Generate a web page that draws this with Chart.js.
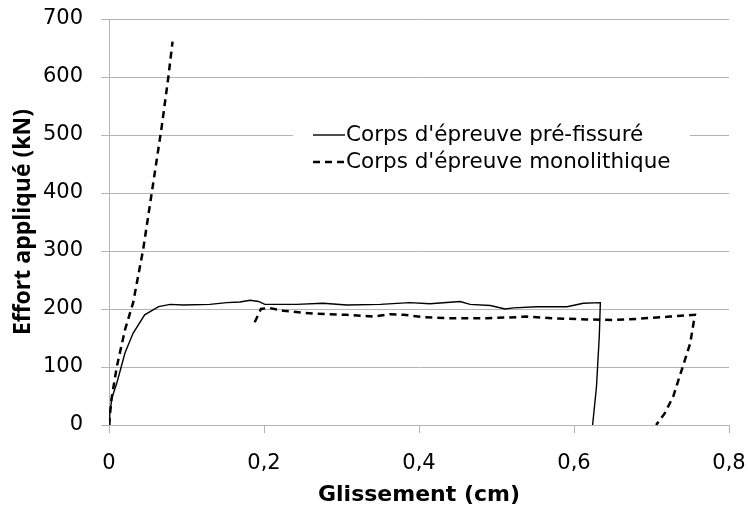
<!DOCTYPE html>
<html>
<head>
<meta charset="utf-8">
<script src="https://cdn.jsdelivr.net/npm/chart.js@4/dist/chart.umd.min.js"></script>
<style>
  html, body { margin: 0; padding: 0; background: #fff; }
  #wrap { width: 748px; height: 508px; }
</style>
</head>
<body>
<div id="wrap"><canvas id="myChart" width="748" height="508"></canvas></div>
<script>
// Corps d'épreuve pré-fissuré (glissement en cm, effort en kN)
const preX = [0, 0.001, 0.004, 0.01, 0.0206, 0.031, 0.046, 0.064, 0.079, 0.096, 0.13, 0.152, 0.169, 0.182, 0.193,
              0.201, 0.242, 0.276, 0.307, 0.35, 0.388, 0.414, 0.453, 0.466, 0.492, 0.511, 0.522, 0.552, 0.591,
              0.612, 0.634, 0.6326, 0.629, 0.624];
const preY = [0, 20, 48, 72, 124, 158, 190, 204, 208, 207, 208, 211, 212, 215, 213,
              208, 208, 210, 207, 208, 211, 209, 213, 208, 206, 200, 202, 204, 204,
              210, 211, 152, 66, 0];

// Corps d'épreuve monolithique (null = coupure de la courbe)
const monoX = [0, 0.003, 0.01, 0.0206, 0.031, 0.044, 0.055, 0.068, 0.0766, 0.082, 0.13,
               0.188, 0.196, 0.206, 0.225, 0.264, 0.306, 0.341, 0.363, 0.38, 0.406, 0.444, 0.487, 0.526,
               0.539, 0.573, 0.616, 0.651, 0.681, 0.724, 0.756, 0.75, 0.739, 0.728, 0.717, 0.706];
const monoY = [0, 43, 100, 164, 210, 302, 399, 514, 600, 661, null,
               177, 200, 202, 197, 192, 190, 187, 191, 190, 186, 184, 184, 186,
               187, 184, 182, 181, 183, 187, 190, 141, 95, 49, 20, 0];

const seriesNames = ["Corps d'épreuve pré-fissuré", "Corps d'épreuve monolithique"];
const xTicks = [0, 0.2, 0.4, 0.6, 0.8];

function toPoints(xs, ys) {
  return xs.map((x, i) => ({ x: x, y: ys[i] }));
}

const gridColor = '#b4b4b4';
const wideFont = '"DejaVu Sans", "Open Sans", sans-serif';
const titleFont = '"Open Sans", Lato, sans-serif';

// petite légende dessinée dans la zone du graphique
const innerLegend = {
  id: 'innerLegend',
  afterDraw(chart) {
    const c = chart.ctx;
    c.save();
    c.fillStyle = '#fff';
    c.fillRect(293, 118, 397, 62);
    const rows = [135, 162];
    chart.data.datasets.forEach((ds, i) => {
      const y = rows[i];
      c.strokeStyle = '#000';
      c.lineWidth = ds.borderWidth;
      c.setLineDash(ds.borderDash || []);
      c.beginPath();
      c.moveTo(313, y);
      c.lineTo(345, y);
      c.stroke();
      c.setLineDash([]);
      c.fillStyle = '#000';
      c.font = '21.5px ' + wideFont;
      c.textBaseline = 'middle';
      c.textAlign = 'left';
      c.fillText(ds.label, 346, y);
    });
    c.restore();
  }
};

const ctx = document.getElementById('myChart').getContext('2d');
const myChart = new Chart(ctx, {
  type: 'line',
  data: {
    datasets: [
      {
        label: seriesNames[0],
        data: toPoints(preX, preY),
        borderColor: '#000',
        borderWidth: 1.4,
        pointRadius: 0,
        tension: 0,
        fill: false,
      },
      {
        label: seriesNames[1],
        data: toPoints(monoX, monoY),
        borderColor: '#000',
        borderWidth: 2.5,
        borderDash: [7, 5],
        pointRadius: 0,
        tension: 0,
        fill: false,
        spanGaps: false,
      },
    ],
  },
  options: {
    responsive: false,
    animation: false,
    layout: { padding: { top: 19, right: 19, left: 0, bottom: 0 } },
    scales: {
      x: {
        type: 'linear',
        min: 0,
        max: 0.8,
        afterBuildTicks: (axis) => { axis.ticks = xTicks.map(v => ({ value: v })); },
        afterFit: (axis) => {
          axis.height = 83;
          axis.paddingLeft = 0;
          axis.paddingRight = 0;
        },
        ticks: {
          color: '#000',
          font: { family: wideFont, size: 21 },
          padding: 18,
          callback: (v) => String(v).replace('.', ','),
        },
        grid: { drawOnChartArea: false, drawTicks: true, tickLength: 8, color: gridColor },
        border: { color: gridColor },
        title: {
          display: true,
          text: 'Glissement (cm)',
          color: '#000',
          font: { family: wideFont, size: 22, weight: 'bold' },
          padding: { top: 0, bottom: 0 },
        },
      },
      y: {
        min: 0,
        max: 700,
        ticks: {
          stepSize: 100,
          color: '#000',
          font: { family: wideFont, size: 21 },
          padding: 18,
        },
        afterFit: (axis) => {
          axis.width = 109;
          axis.paddingTop = 0;
          axis.paddingBottom = 0;
        },
        grid: { color: gridColor, tickLength: 8 },
        border: { color: gridColor },
        title: {
          display: true,
          text: 'Effort appliqué (kN)',
          color: '#000',
          font: { family: titleFont, size: 23, weight: 'bold' },
          padding: { top: 10, bottom: 0 },
        },
      },
    },
    plugins: {
      legend: { display: false },
      tooltip: { enabled: false },
    },
  },
  plugins: [innerLegend],
});
</script>
</body>
</html>
